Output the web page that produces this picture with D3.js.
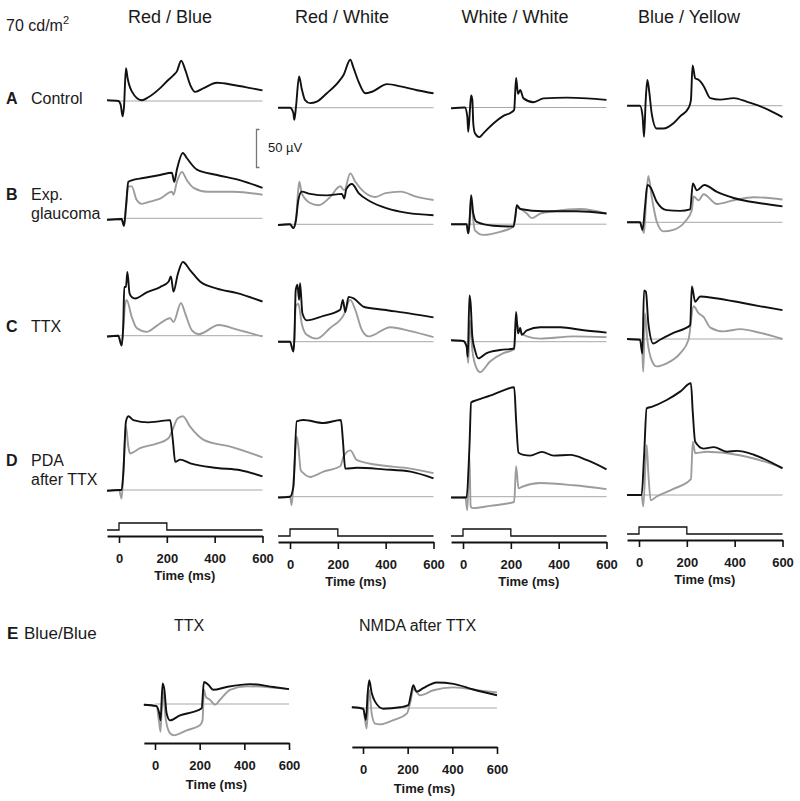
<!DOCTYPE html>
<html><head><meta charset="utf-8">
<script src="https://cdn.jsdelivr.net/npm/d3@7"></script>
<style>
body{margin:0;background:#fff}
svg{display:block}
text{font-family:"Liberation Sans",Arial,Helvetica,sans-serif;fill:#1a1a1a}
</style>
</head><body>
<svg id="chart" width="800" height="801"></svg>
<script>
// ---------------- DATA ----------------
const columns = ["Red / Blue", "Red / White", "White / White", "Blue / Yellow"];
const rowLetters = ["A", "B", "C", "D"];
const rowNames = [["Control"], ["Exp.", "glaucoma"], ["TTX"], ["PDA", "after TTX"]];
const tickValues = [0, 200, 400, 600];
const stimTimes = [-50, 0, 0, 200, 200, 600];
const stimLevels = [0, 0, 1, 1, 0, 0];
const scaleBarUv = 50;
const eTitle = ["E", "Blue/Blue"];
const eConditions = ["TTX", "NMDA after TTX"];

// traces: [time (ms), amplitude (µV)]
// Row A – Control
const redBlue_A = [[-50,1],[-3,0],[7,-5],[15,-20],[21,-7],[29,43],[36,30],[53,13],[95,1],[123,5],[172,17],[207,28],[228,34],[242,39],[260,53],[277,41],[298,21],[319,12],[354,17],[410,24],[480,21],[550,17],[600,14]];
const redWhite_A = [[-50,0],[0,0],[14,-7],[18,-16],[25,1],[38,41],[49,25],[63,10],[84,6],[112,8],[154,19],[203,34],[224,43],[252,63],[266,52],[287,34],[315,19],[343,21],[406,31],[462,28],[531,23],[600,19]];
const whiteWhite_A = [[-50,-1],[8,0],[18,-12],[22,-32],[29,-3],[34,16],[39,10],[43,-21],[50,-34],[68,-39],[85,-34],[127,-21],[169,-11],[204,-6],[214,-3],[222,39],[230,18],[239,23],[253,12],[295,7],[337,12],[435,13],[519,12],[600,10]];
const blueYellow_A = [[-50,0],[4,0],[15,-14],[21,-41],[28,7],[35,34],[43,18],[53,-10],[74,-30],[102,-30],[144,-23],[172,-14],[207,-3],[217,7],[224,53],[235,36],[249,34],[270,26],[298,10],[340,8],[396,10],[452,5],[508,-1],[564,-9],[600,-15]];

// Row B – Exp. glaucoma (black) vs control (gray)
const redBlue_B_black = [[-50,-2],[11,-1],[21,-10],[29,15],[39,48],[53,50],[102,53],[172,57],[221,60],[231,48],[242,64],[267,86],[284,79],[326,64],[410,57],[508,50],[600,40]];
const redBlue_B_gray = [[-50,-2],[11,-1],[21,-10],[29,12],[39,42],[53,42],[74,24],[95,19],[130,22],[172,26],[221,35],[228,31],[242,48],[263,61],[284,50],[312,40],[368,35],[480,35],[600,31]];
const redWhite_B_black = [[-50,-1],[0,0],[14,-5],[25,6],[35,32],[49,43],[84,40],[154,38],[217,40],[227,34],[235,46],[259,53],[287,41],[336,30],[406,21],[490,15],[600,12]];
const redWhite_B_gray = [[-50,-1],[0,0],[14,-5],[25,6],[33,40],[39,56],[49,41],[84,28],[119,25],[168,36],[210,50],[227,45],[252,67],[273,56],[308,43],[357,36],[399,41],[462,43],[531,36],[600,32]];
const whiteWhite_B_black = [[-50,0],[15,0],[22,-12],[26,-3],[34,38],[43,14],[57,3],[127,-2],[211,-3],[218,8],[225,25],[239,20],[337,17],[477,17],[600,14]];
const whiteWhite_B_gray = [[-50,0],[15,0],[22,-12],[26,-3],[34,30],[43,5],[50,-8],[85,-14],[155,-10],[211,-3],[218,8],[225,22],[267,14],[288,8],[323,14],[379,17],[491,20],[600,14]];
const blueYellow_B_black = [[-50,0],[4,0],[15,-10],[25,20],[35,49],[46,47],[74,27],[116,16],[172,15],[214,17],[225,51],[242,42],[273,49],[326,40],[396,32],[508,25],[600,21]];
const blueYellow_B_gray = [[-50,0],[4,0],[15,-10],[21,-14],[30,30],[39,61],[53,34],[74,1],[102,-12],[144,-10],[193,1],[221,16],[228,34],[249,29],[270,37],[326,24],[396,29],[480,33],[600,30]];

// Row C – TTX
const redBlue_C_black = [[-50,-1],[-3,0],[11,-13],[18,16],[22,64],[29,64],[35,84],[44,56],[53,51],[67,49],[116,57],[172,64],[207,71],[217,78],[228,58],[245,80],[267,97],[298,86],[340,71],[410,62],[494,56],[600,45]];
const redBlue_C_gray = [[-50,-1],[-3,0],[11,-13],[18,10],[25,40],[32,47],[53,25],[74,10],[116,5],[158,13],[214,23],[228,18],[259,43],[277,29],[305,7],[333,2],[417,14],[494,8],[600,-1]];
const redWhite_C_black = [[-50,0],[0,0],[14,-13],[18,2],[24,68],[31,75],[38,55],[42,77],[52,37],[70,28],[140,34],[210,42],[221,55],[231,39],[245,59],[266,57],[308,46],[392,42],[504,37],[600,32]];
const redWhite_C_gray = [[-50,0],[0,0],[14,-13],[18,2],[24,46],[35,50],[49,24],[70,9],[112,4],[168,18],[224,35],[252,55],[273,42],[301,15],[329,7],[420,19],[504,14],[600,6]];
const whiteWhite_C_black = [[-50,2],[1,1],[15,-6],[20,-20],[27,61],[32,50],[39,7],[50,-11],[64,-22],[99,-15],[155,-11],[214,-9],[222,39],[230,11],[239,18],[246,9],[267,15],[323,19],[407,19],[505,15],[600,12]];
const whiteWhite_C_gray = [[-50,2],[1,1],[15,-6],[22,-28],[29,28],[39,-11],[57,-35],[71,-40],[113,-26],[169,-15],[214,-10],[222,24],[239,13],[267,7],[323,4],[463,7],[600,6]];
const blueYellow_C_black = [[-50,0],[4,-1],[14,-19],[21,64],[29,62],[39,21],[60,-6],[88,-1],[144,8],[214,18],[221,69],[235,49],[256,56],[312,54],[424,48],[508,43],[600,38]];
const blueYellow_C_gray = [[-50,0],[4,-1],[14,-19],[18,-43],[25,34],[35,-1],[53,-28],[74,-36],[116,-32],[172,-19],[207,-1],[228,43],[249,34],[270,29],[298,15],[354,10],[424,13],[508,8],[600,0]];

// Row D – PDA after TTX
const redBlue_D_black = [[-50,-1],[0,0],[11,0],[18,22],[29,90],[39,97],[60,92],[123,89],[158,90],[214,92],[225,66],[235,37],[256,40],[298,35],[410,29],[508,26],[600,18]];
const redBlue_D_gray = [[-50,-1],[0,0],[11,-11],[18,22],[29,84],[39,57],[46,48],[88,55],[158,61],[207,68],[221,77],[245,94],[267,97],[298,83],[354,66],[466,57],[600,43]];
const redWhite_D_black = [[-50,-1],[0,0],[14,13],[28,99],[56,101],[140,97],[213,101],[221,75],[231,37],[280,38],[392,36],[504,33],[600,24]];
const redWhite_D_gray = [[-50,-1],[0,0],[7,-11],[17,31],[28,79],[35,66],[45,35],[56,31],[84,26],[140,33],[210,40],[224,53],[252,61],[280,48],[364,42],[504,37],[600,31]];
const whiteWhite_D_black = [[-50,-1],[15,-1],[27,66],[34,124],[57,127],[113,133],[169,140],[214,144],[222,101],[232,58],[253,55],[281,54],[330,59],[379,54],[449,55],[519,48],[600,36]];
const whiteWhite_D_gray = [[-50,-1],[10,-1],[18,-18],[27,53],[32,-13],[43,-15],[113,-12],[214,-7],[222,40],[232,11],[246,13],[323,18],[463,15],[600,10]];
const blueYellow_D_black = [[-50,0],[11,0],[21,50],[32,114],[53,116],[116,125],[172,136],[217,147],[225,108],[235,70],[270,61],[312,63],[368,57],[410,58],[480,53],[600,35]];
const blueYellow_D_gray = [[-50,0],[11,0],[18,-15],[32,66],[39,29],[49,-7],[74,-2],[144,8],[217,21],[225,70],[235,55],[284,57],[368,55],[480,48],[600,36]];

// Row E – Blue/Blue
const blueBlue_TTX_black = [[-50,-1],[7,-3],[19,-13],[25,-23],[34,29],[42,20],[52,-13],[67,-23],[112,-16],[172,-11],[209,-6],[219,31],[239,27],[261,20],[321,24],[425,28],[530,24],[600,21]];
const blueBlue_TTX_gray = [[-50,-1],[7,-3],[19,-27],[25,-39],[34,20],[49,-23],[67,-41],[82,-44],[142,-37],[201,-30],[213,-23],[219,20],[228,10],[246,6],[269,-1],[291,6],[336,20],[410,25],[600,21]];
const blueBlue_NMDA_black = [[-50,1],[1,-1],[13,-17],[21,21],[28,39],[39,21],[54,9],[91,-1],[166,1],[203,4],[214,18],[225,32],[240,23],[270,28],[330,36],[405,34],[494,26],[600,18]];
const blueBlue_NMDA_gray = [[-50,1],[1,-1],[16,-29],[28,25],[39,-8],[54,-22],[76,-23],[136,-17],[196,-8],[214,11],[225,27],[255,18],[315,25],[405,29],[539,24],[600,22]];

// ---------------- LAYOUT ----------------
const FONT = '"Liberation Sans",Arial,Helvetica,sans-serif';
const colX0 = [119, 290, 463, 639];
const pxPerMs = 143.5 / 600;
const pxPerUv = 0.76;
const rowBase = [[101,107.7,107.5,105.7],[218.3,224.3,224.2,222.3],[335.7,341.7,341.7,339],[490,496.7,496.7,495]];
const axisY = [536, 542, 542, 540];
const titleX = [128, 295, 461.5, 638];

const grid = [
  [[redBlue_A,null],[redWhite_A,null],[whiteWhite_A,null],[blueYellow_A,null]],
  [[redBlue_B_black,redBlue_B_gray],[redWhite_B_black,redWhite_B_gray],[whiteWhite_B_black,whiteWhite_B_gray],[blueYellow_B_black,blueYellow_B_gray]],
  [[redBlue_C_black,redBlue_C_gray],[redWhite_C_black,redWhite_C_gray],[whiteWhite_C_black,whiteWhite_C_gray],[blueYellow_C_black,blueYellow_C_gray]],
  [[redBlue_D_black,redBlue_D_gray],[redWhite_D_black,redWhite_D_gray],[whiteWhite_D_black,whiteWhite_D_gray],[blueYellow_D_black,blueYellow_D_gray]]
];

const svg = d3.select("#chart");

function makeX(x0, k) { return d3.scaleLinear().domain([-50, 600]).range([x0 - 50 * k, x0 + 600 * k]); }
function makeY(base, s) { return d3.scaleLinear().domain([0, 100]).range([base, base - 100 * s]); }

function drawPanel(x, y, black, gray) {
  const line = d3.line().x(d => x(d[0])).y(d => y(d[1])).curve(d3.curveMonotoneX);
  svg.append("line")
    .attr("x1", x(0)).attr("x2", x(600)).attr("y1", y(0)).attr("y2", y(0))
    .attr("stroke", "#a8a8a8").attr("stroke-width", 1);
  if (gray) svg.append("path").datum(gray).attr("d", line)
    .attr("fill", "none").attr("stroke", "#9c9c9c").attr("stroke-width", 1.9).attr("stroke-linejoin", "round");
  svg.append("path").datum(black).attr("d", line)
    .attr("fill", "none").attr("stroke", "#111").attr("stroke-width", 1.9).attr("stroke-linejoin", "round");
}

function drawAxis(x, ay, withStim, timeOffset) {
  const g = svg.append("g").attr("transform", `translate(0,${ay})`)
    .call(d3.axisBottom(x).tickValues(tickValues).tickSize(7).tickSizeOuter(0).tickPadding(10.8).tickFormat(d3.format("d")));
  g.select(".domain").attr("stroke", "#111").attr("stroke-width", 1.8);
  g.selectAll(".tick line").attr("stroke", "#111").attr("stroke-width", 1.6);
  g.selectAll(".tick text").attr("font-family", FONT).attr("font-size", 13).attr("font-weight", "bold").attr("fill", "#1a1a1a");
  const r = x.range();
  svg.append("text").attr("x", (r[0] + r[1]) / 2).attr("y", ay + timeOffset)
    .attr("text-anchor", "middle").attr("font-size", 13).attr("font-weight", "bold").text("Time (ms)");
  if (withStim) {
    const stim = stimTimes.map((t, i) => [t, stimLevels[i]]);
    const sy = d3.scaleLinear().domain([0, 1]).range([ay - 6, ay - 13]);
    svg.append("path").datum(stim)
      .attr("d", d3.line().x(d => x(d[0])).y(d => sy(d[1])))
      .attr("fill", "none").attr("stroke", "#111").attr("stroke-width", 1.3);
  }
}

// Main grid
columns.forEach((c, ci) => {
  const x = makeX(colX0[ci], pxPerMs);
  grid.forEach((row, ri) => {
    const y = makeY(rowBase[ri][ci], pxPerUv);
    drawPanel(x, y, row[ci][0], row[ci][1]);
  });
  drawAxis(x, axisY[ci], true, 44);
  svg.append("text").attr("x", titleX[ci]).attr("y", 23).attr("font-size", 18).text(c);
});

// Header unit label
const unit = svg.append("text").attr("x", 6).attr("y", 31).attr("font-size", 16);
unit.append("tspan").text("70 cd/m");
unit.append("tspan").attr("font-size", 11).attr("dy", -7).text("2");

// Row labels
const rowLabelY = [[104], [199.5, 219], [331.7], [465.7, 485]];
rowLetters.forEach((L, i) => {
  svg.append("text").attr("x", 6).attr("y", rowLabelY[i][0]).attr("font-size", 16).attr("font-weight", "bold").text(L);
  rowNames[i].forEach((n, j) => {
    svg.append("text").attr("x", 31).attr("y", rowLabelY[i][j]).attr("font-size", 16).text(n);
  });
});

// Scale bar (50 µV)
{
  const y = makeY(167.5, pxPerUv);
  const bx = 256.5;
  svg.append("path")
    .attr("d", `M${bx + 3},${y(0)} H${bx} V${y(scaleBarUv)} H${bx + 3}`)
    .attr("fill", "none").attr("stroke", "#777").attr("stroke-width", 1.3);
  svg.append("text").attr("x", 268).attr("y", 152).attr("font-size", 13).attr("fill", "#333").text(scaleBarUv + " \u00B5V");
}

// Section E
svg.append("text").attr("x", 7).attr("y", 639).attr("font-size", 17).attr("font-weight", "bold").text(eTitle[0]);
svg.append("text").attr("x", 24).attr("y", 639).attr("font-size", 17).text(eTitle[1]);
const eX0 = [155, 363];
const eK = 134 / 600;
const eBase = [704, 708];
const eAxisY = [743, 747];
const eTitleX = [174, 359];
const eData = [[blueBlue_TTX_black, blueBlue_TTX_gray], [blueBlue_NMDA_black, blueBlue_NMDA_gray]];
eConditions.forEach((cond, i) => {
  const x = makeX(eX0[i], eK);
  const y = makeY(eBase[i], 0.71);
  drawPanel(x, y, eData[i][0], eData[i][1]);
  drawAxis(x, eAxisY[i], false, 46);
  svg.append("text").attr("x", eTitleX[i]).attr("y", 631).attr("font-size", 16).text(cond);
});
</script>
</body></html>
